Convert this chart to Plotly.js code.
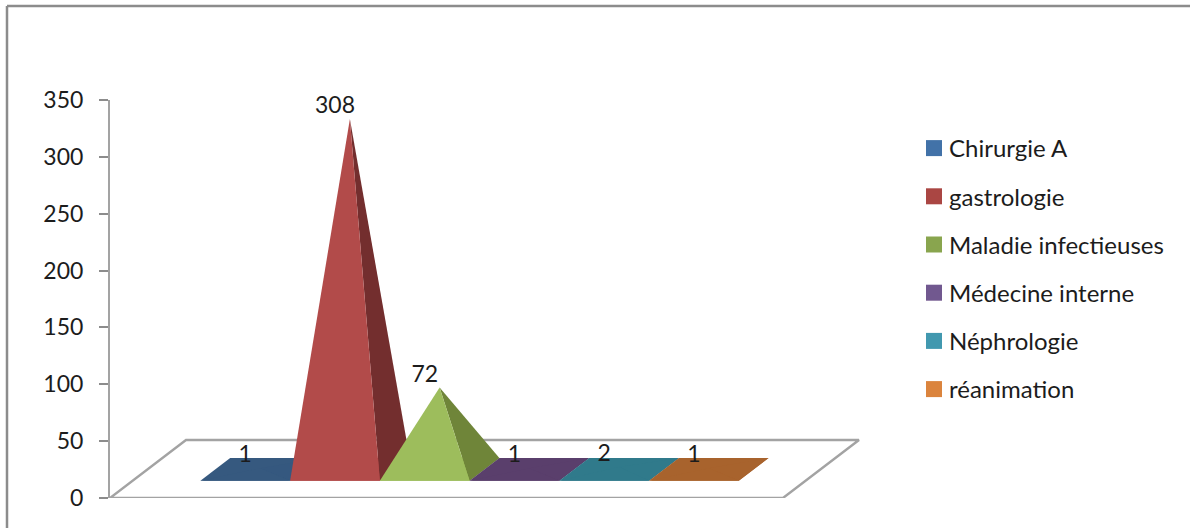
<!DOCTYPE html>
<html>
<head>
<meta charset="utf-8">
<script src="https://cdn.plot.ly/plotly-3.0.1.min.js"></script>
<style>html,body{margin:0;padding:0;background:#fff}#chart{width:1190px;height:528px}</style>
</head>
<body>
<div id="chart"></div>
<script>
// Values per hospital department
const departments = ["Chirurgie A", "gastrologie", "Maladie infectieuses", "Médecine interne", "Néphrologie", "réanimation"];
const counts = [1, 308, 72, 1, 2, 1];
const valueTicks = [0, 50, 100, 150, 200, 250, 300, 350];

// Face colours per series
const legendColors = ["#4272a8", "#aa4643", "#89a54e", "#71588f", "#4198af", "#db843d"];
const frontColors = ["#36597f", "#b24b4a", "#9dbd5c", "#5a3f6c", "#307a8b", "#a8632d"];
const sideColors = ["#35587f", "#732e2e", "#6f8539", "#5a3f6c", "#307a8b", "#a8632d"];

// Oblique projection of the 3D floor: d runs from the front edge (0) to the back edge (1)
const CELL_PX = 89.73, PLOT_W = 760, PLOT_H = 398;
const DEPTH_X = 76 / CELL_PX, DEPTH_Y = 58 * 350 / PLOT_H;
const FLOOR_LEN = 7.5, GAP = 0.755, BASE_FRONT = 0.298, BASE_BACK = 0.69;
const project = (u, d, v) => [u + d * DEPTH_X, v + d * DEPTH_Y];

function polygon(points, color) {
  const xy = points.map(p => project(p[0], p[1], p[2]));
  return {
    type: "scatter", mode: "lines", fill: "toself", fillcolor: color,
    x: xy.map(p => p[0]).concat(xy[0][0]), y: xy.map(p => p[1]).concat(xy[0][1]),
    line: {width: 0}, showlegend: false, hoverinfo: "skip", cliponaxis: false
  };
}

const traces = [];

// Floor outline
const floorCorners = [[0, 0], [FLOOR_LEN, 0], [FLOOR_LEN, 1], [0, 1], [0, 0]].map(c => project(c[0], c[1], 0));
traces.push({
  type: "scatter", mode: "lines", x: floorCorners.map(p => p[0]), y: floorCorners.map(p => p[1]),
  line: {color: "#a3a3a3", width: 2.4}, showlegend: false, hoverinfo: "skip", cliponaxis: false
});

// One four-sided pyramid per department, painted back to front over a solid base
counts.forEach((value, i) => {
  const l = GAP + i, r = l + 1, mid = (BASE_FRONT + BASE_BACK) / 2;
  const apex = [l + 0.5, mid, value];
  const fl = [l, BASE_FRONT, 0], fr = [r, BASE_FRONT, 0], br = [r, BASE_BACK, 0], bl = [l, BASE_BACK, 0];
  traces.push(polygon([fl, fr, br, bl], frontColors[i]));
  traces.push(polygon([fr, br, apex], sideColors[i]));
  traces.push(polygon([fl, fr, apex], frontColors[i]));
});

// Value labels sit above each apex, centred on the front edge of the base
const labelPoints = counts.map((value, i) => project(GAP + i + 0.5, BASE_FRONT, 0)[0]);
const labelHeights = counts.map(value => project(0, (BASE_FRONT + BASE_BACK) / 2, value)[1]);
traces.push({
  type: "scatter", mode: "text", x: labelPoints, y: labelHeights, text: counts.map(String),
  textposition: "top center", textfont: {family: "Lato, sans-serif", size: 23, color: "#1c1c1c"},
  showlegend: false, hoverinfo: "skip", cliponaxis: false
});

// Legend entries with square swatches
departments.forEach((name, i) => {
  traces.push({
    type: "scatter", mode: "markers", x: [null], y: [null], name: name, legendgroup: name,
    marker: {symbol: "square", size: 16, color: legendColors[i]}, hoverinfo: "skip"
  });
});

const px = x => (x - 110) / PLOT_W;
const py = y => (498 - y) / PLOT_H;
const frameLine = {color: "#8c8c8c", width: 2.5};

const layout = {
  width: 1190, height: 528, paper_bgcolor: "#fff", plot_bgcolor: "#fff",
  margin: {l: 110, r: 320, t: 100, b: 30, pad: 0},
  font: {family: "Lato, sans-serif", size: 24, color: "#1c1c1c"},
  xaxis: {range: [0, PLOT_W / CELL_PX], visible: false, fixedrange: true},
  yaxis: {
    range: [0, 350], tickvals: valueTicks, ticktext: valueTicks.map(String), ticks: "outside", ticklen: 9,
    tickwidth: 2, tickcolor: "#8c8c8c", showgrid: false, zeroline: false, showline: true, ticklabelstandoff: 11,
    linecolor: "#a3a3a3", linewidth: 2, fixedrange: true, tickfont: {size: 23, family: "Lato, sans-serif", color: "#1c1c1c"}
  },
  legend: {
    x: px(909), xanchor: "left", y: py(126), yanchor: "top", itemsizing: "trace",
    tracegroupgap: 14, bgcolor: "rgba(0,0,0,0)", font: {family: "Lato, sans-serif", size: 24, color: "#1c1c1c"}
  },
  shapes: [
    {type: "line", xref: "paper", yref: "paper", x0: px(7), x1: px(7), y0: py(6), y1: py(528), line: frameLine},
    {type: "line", xref: "paper", yref: "paper", x0: px(7), x1: px(1190), y0: py(6), y1: py(6), line: frameLine}
  ]
};

Plotly.newPlot("chart", traces, layout, {displayModeBar: false, staticPlot: true}).then(() => {
  // Tighten the gap between each swatch and its legend text
  document.querySelectorAll("#chart .legendsymbols").forEach(el => el.setAttribute("transform", "translate(5,0)"));
});
</script>
</body>
</html>
